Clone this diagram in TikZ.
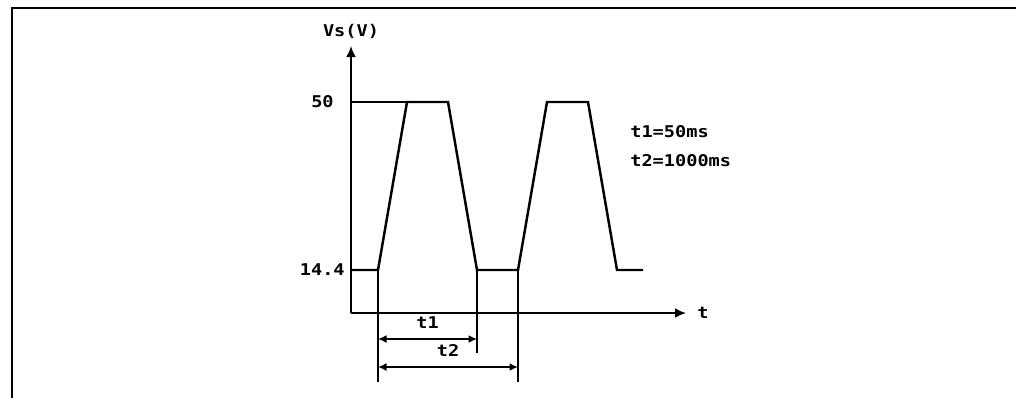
\documentclass[tikz,border=0pt]{standalone}
\usepackage{fontspec}
\setmonofont[FakeStretch=1.15]{DejaVu Sans Mono}
\usetikzlibrary{arrows.meta, positioning}

\begin{document}
\begin{tikzpicture}[x=0.02cm, y=-0.02cm, >={Latex[length=2.2mm, width=2mm]},
    font=\ttfamily\bfseries\fontsize{9.2}{11}\selectfont]
    \tikzstyle{frame}=[line width=1.6pt]
    \tikzstyle{axis}=[line width=1.2pt, ->]
    \tikzstyle{wave}=[line width=1.4pt, line join=miter]
    \tikzstyle{dim}=[line width=1pt]
    \tikzstyle{dimarrow}=[dim, {Latex[length=1.7mm, width=1.6mm]}-{Latex[length=1.7mm, width=1.6mm]}]
    \tikzstyle{lbl}=[inner sep=0pt]

    \useasboundingbox (0,0) rectangle (1016,397);

    % Draw the frame
    \draw[frame] (12,400) -- (12,8) -- (1020,8);

    % Draw the axes
    \coordinate (O) at (351,313);
    \coordinate (Ytip) at (351,46);
    \coordinate (Xtip) at (686,313);
    \draw[axis] (O) -- (Ytip);
    \draw[axis] (O) -- (Xtip);
    \node[lbl, above=0.14cm of Ytip] (ylabel) {Vs(V)};
    \node[lbl, right=0.22cm of Xtip] (xlabel) {t};

    % Levels on the voltage axis
    \coordinate (V50) at (351,102);
    \coordinate (V14) at (351,270);
    \node[lbl, anchor=east] (l50) at (334,102) {50};
    \node[lbl, anchor=east] (l14) at (345,270) {14.4};

    % Corners of the two pulses
    \foreach \i/\dx in {1/0, 2/140} {
        \coordinate (P\i a) at (378+\dx,270);
        \coordinate (P\i b) at (407+\dx,102);
        \coordinate (P\i c) at (448+\dx,102);
        \coordinate (P\i d) at (477+\dx,270);
    }
    \coordinate (End) at (643,270);

    % Draw the waveform
    \draw[wave] (V14) -- (P1a) -- (P1b) -- (P1c) -- (P1d) -- (P2a)
        -- (P2b) -- (P2c) -- (P2d) -- (End);
    \draw[wave] (V50) -- (P1b);

    % Extension lines for the times
    \coordinate (E1) at (378,382);
    \coordinate (E2) at (477,353);
    \coordinate (E3) at (518,382);
    \draw[dim] (P1a) -- (E1);
    \draw[dim] (P1d) -- (E2);
    \draw[dim] (P2a) -- (E3);

    % Dimension arrows
    \coordinate (T1s) at (378,339);
    \coordinate (T1e) at (477,339);
    \coordinate (T2s) at (378,367);
    \coordinate (T2e) at (518,367);
    \draw[dimarrow] (T1s) -- node[above=2pt] (t1) {t1} (T1e);
    \draw[dimarrow] (T2s) -- node[above=2pt] (t2) {t2} (T2e);

    % Annotate the times
    \node[lbl, anchor=west] (note1) at (630,132) {t1=50ms};
    \node[lbl, anchor=west] (note2) at (630,161) {t2=1000ms};
\end{tikzpicture}
\end{document}
